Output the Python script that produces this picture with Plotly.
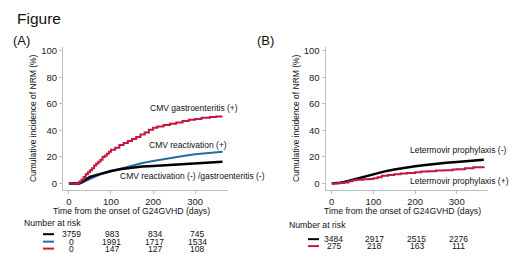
import plotly.graph_objects as go

W, H = 520, 260

# ---------------- data ----------------
# Panel A
a_black_days = [0, 25, 30, 40, 50, 60, 75, 100, 125, 150, 175, 200, 225, 250, 275, 300, 325, 350, 365]
a_black_vals = [0, 0, 1, 3, 5, 6, 7.5, 9.5, 11, 12, 12.8, 13.3, 13.8, 14.3, 15, 15.5, 16, 16.3, 16.5]
a_blue_days = [0, 25, 30, 40, 50, 60, 75, 100, 125, 150, 175, 200, 225, 250, 275, 300, 325, 350, 365]
a_blue_vals = [0, 0, 0.5, 2, 3.5, 5, 7, 9.3, 11.5, 13.5, 15.5, 17, 18.5, 20, 21, 22, 22.8, 23.5, 24]
a_red_days = [0, 22, 25, 30, 35, 40, 45, 50, 55, 60, 65, 70, 75, 80, 85, 90, 95, 100, 110, 120,
              130, 140, 150, 160, 170, 180, 190, 200, 210, 225, 240, 255, 270, 285, 300, 315, 335, 350, 365]
a_red_vals = [0, 0, 1.5, 3, 5, 7, 8.5, 10, 11.5, 13.5, 15, 16.5, 18, 20, 21, 22.5, 24, 25.5, 27, 29,
              30.5, 32, 33.5, 35, 37, 38.5, 40.5, 42, 43, 44, 45, 46, 47, 48, 48.5, 49.5, 50, 50.5, 50.5]
a_labels = ["CMV gastroenteritis (+)", "CMV reactivation (+)", "CMV reactivation (-) /gastroenteritis (-)"]
a_risk = [["3759", "983", "834", "745"],
          ["0", "1991", "1717", "1534"],
          ["0", "147", "127", "108"]]

# Panel B
b_black_days = [0, 10, 20, 30, 40, 50, 60, 75, 100, 125, 150, 175, 200, 225, 250, 275, 300, 325, 350, 365]
b_black_vals = [0, 0.2, 0.6, 1.2, 2, 3, 4, 5.3, 7.4, 9, 10.6, 12, 13, 14, 15, 15.7, 16.3, 17, 17.6, 18]
b_red_days = [0, 10, 20, 30, 40, 50, 60, 75, 90, 100, 110, 120, 135, 150, 165, 180, 200, 215, 230,
              250, 270, 290, 300, 320, 340, 365]
b_red_vals = [0, 0.2, 0.5, 0.8, 1.8, 2.5, 2.8, 3.2, 3.5, 4, 4.8, 5.8, 6.5, 7, 7.5, 8, 8.6, 9, 9.3,
              9.8, 10.1, 10.5, 10.7, 11.5, 12.2, 12.6]
b_labels = ["Letermovir prophylaxis (-)", "Letermovir prophylaxis (+)"]
b_risk = [["3484", "2917", "2515", "2276"],
          ["275", "218", "163", "111"]]

risk_days = [5, 102, 204, 305]
x_ticks = [0, 100, 200, 300]
y_ticks = [0, 20, 40, 60, 80, 100]

BLACK = "#000000"
BLUE = "#1F6E9E"
RED = "#C2173F"
FONT = "Liberation Sans, Arial, sans-serif"

def px(x):
    return x / W

def py(y):
    return (H - y) / H

fig = go.Figure()

# Panel A traces
fig.add_trace(go.Scatter(x=a_blue_days, y=a_blue_vals, mode="lines", line=dict(color=BLUE, width=2),
                         xaxis="x", yaxis="y", showlegend=False))
fig.add_trace(go.Scatter(x=a_black_days, y=a_black_vals, mode="lines", line=dict(color=BLACK, width=2.5),
                         xaxis="x", yaxis="y", showlegend=False))
fig.add_trace(go.Scatter(x=a_red_days, y=a_red_vals, mode="lines", line=dict(color=RED, width=2, shape="hv"),
                         xaxis="x", yaxis="y", showlegend=False))
# Panel B traces
fig.add_trace(go.Scatter(x=b_black_days, y=b_black_vals, mode="lines", line=dict(color=BLACK, width=2.5),
                         xaxis="x2", yaxis="y2", showlegend=False))
fig.add_trace(go.Scatter(x=b_red_days, y=b_red_vals, mode="lines", line=dict(color=RED, width=2, shape="hv"),
                         xaxis="x2", yaxis="y2", showlegend=False))

axis_common = dict(showgrid=False, zeroline=False, showline=True, linecolor="#BDBDBD", linewidth=1,
                   ticks="outside", ticklen=3, tickcolor="#BDBDBD", tickwidth=1,
                   tickfont=dict(family=FONT, size=9.5, color="#222222"), fixedrange=True)

ydom = [py(189), py(45)]
fig.update_layout(
    width=W, height=H, margin=dict(l=0, r=0, t=0, b=0),
    paper_bgcolor="white", plot_bgcolor="white",
    xaxis=dict(domain=[px(63), px(228)], range=[-14, 378], tickvals=x_ticks, anchor="y", **axis_common),
    yaxis=dict(domain=ydom, range=[-4.5, 103], tickvals=y_ticks, anchor="x", **axis_common),
    xaxis2=dict(domain=[px(325.5), px(488)], range=[-15, 375], tickvals=x_ticks, anchor="y2", **axis_common),
    yaxis2=dict(domain=ydom, range=[-4.5, 103], tickvals=y_ticks, anchor="x2", **axis_common),
)

def ann(text, x, y, size=9, xanchor="center", yanchor="middle", angle=0, xref="paper", color="#111111"):
    fig.add_annotation(text=text, x=x, y=y, xref=xref, yref="paper", showarrow=False,
                       xanchor=xanchor, yanchor=yanchor, textangle=angle,
                       font=dict(family=FONT, size=size, color=color))

# titles
ann("Figure", px(15), py(17), size=15.5, xanchor="left")
ann("(A)", px(11), py(38.5), size=13, xanchor="left")
ann("(B)", px(255), py(38.5), size=13, xanchor="left")

# axis titles
ann("Cumulative incidence of NRM (%)", px(33), py(117), size=8.5, angle=-90)
ann("Cumulative incidence of NRM (%)", px(296), py(117), size=8.5, angle=-90)
ann("Time from the onset of G24GVHD (days)", px(131), py(211), size=8.7)
ann("Time from the onset of G24GVHD (days)", px(402), py(211), size=8.7)

# curve labels
ann(a_labels[0], px(194), py(107), size=8.5)
ann(a_labels[1], px(188), py(144), size=8.5)
ann(a_labels[2], px(192), py(175), size=8.5)
ann(b_labels[0], px(458), py(149), size=8.5)
ann(b_labels[1], px(459), py(180), size=8.5)

# risk tables
ann("Number at risk", px(22), py(223), size=8.7, xanchor="left")
ann("Number at risk", px(287), py(225), size=8.7, xanchor="left")
a_rows_y = [234, 241.5, 248.5]
a_colors = [BLACK, BLUE, RED]
for row, yy, col in zip(a_risk, a_rows_y, a_colors):
    fig.add_shape(type="line", xref="paper", yref="paper", x0=px(43), x1=px(54), y0=py(yy), y1=py(yy),
                  line=dict(color=col, width=2))
    for d, t in zip(risk_days, row):
        ann(t, d, py(yy), size=8.5, xref="x")
b_rows_y = [239, 246]
b_colors = [BLACK, RED]
for row, yy, col in zip(b_risk, b_rows_y, b_colors):
    fig.add_shape(type="line", xref="paper", yref="paper", x0=px(308), x1=px(319), y0=py(yy), y1=py(yy),
                  line=dict(color=col, width=2))
    for d, t in zip(risk_days, row):
        ann(t, d, py(yy), size=8.5, xref="x2")

fig.write_html("out.html", config={"displayModeBar": False},
               post_script="document.body.style.margin='0';document.body.style.overflow='hidden';")
